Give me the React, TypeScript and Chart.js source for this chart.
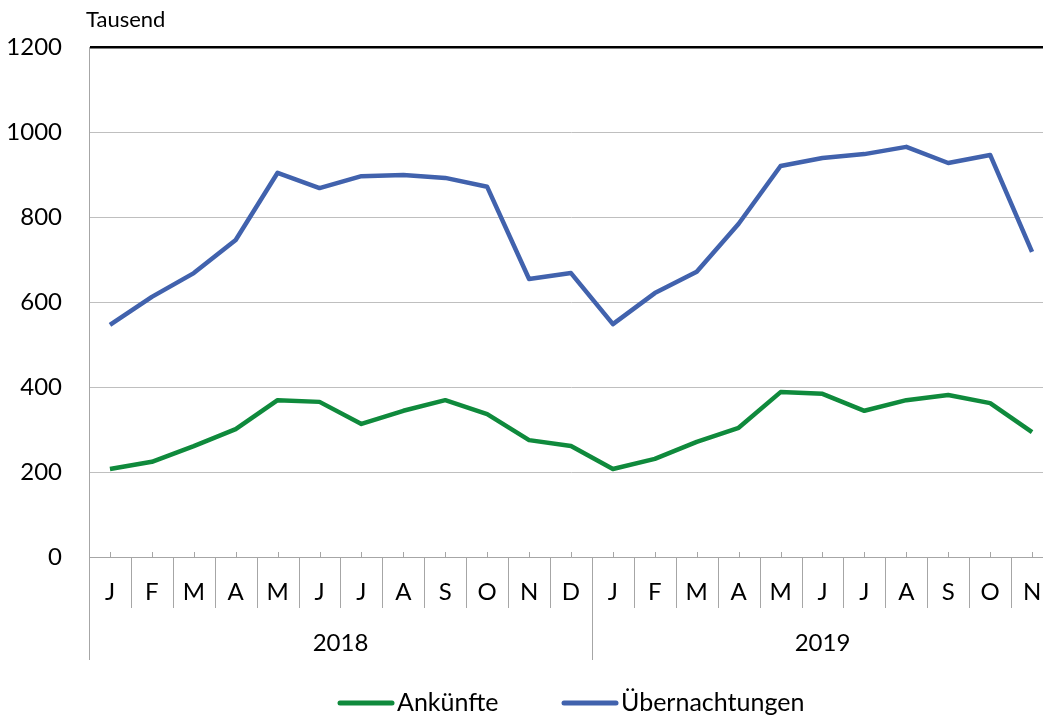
import React, { useEffect, useRef } from "react";
import { Chart, registerables } from "chart.js";

Chart.register(...registerables);

const months2018 = ["J", "F", "M", "A", "M", "J", "J", "A", "S", "O", "N", "D"];
const months2019 = ["J", "F", "M", "A", "M", "J", "J", "A", "S", "O", "N"];
const years = ["2018", "2019"];
const categories = [...months2018, ...months2019];

const ankuenfte = [207, 224, 261, 301, 369, 365, 313, 344, 369, 336, 275, 261, 207, 231, 271, 304, 388, 384, 344, 369, 381, 362, 294];
const uebernachtungen = [546, 612, 668, 746, 904, 868, 896, 899, 892, 871, 654, 668, 548, 621, 671, 784, 920, 939, 948, 965, 927, 946, 718];

const yTicks = [0, 200, 400, 600, 800, 1000, 1200];
const unitLabel = "Tausend";
const seriesNames = ["Ankünfte", "Übernachtungen"];
const seriesColors = ["#0f8a3c", "#4162ad"];

const FONT = "Lato, 'Noto Sans', sans-serif";
const AXIS_GRAY = "#a6a6a6";

const customAxis = {
  id: "customAxis",
  afterDraw(chart: any) {
    const ctx = chart.ctx;
    const area = chart.chartArea;
    const n = categories.length;
    const w = (area.right - area.left) / n;
    const bottom = area.bottom;
    ctx.save();
    ctx.strokeStyle = AXIS_GRAY;
    ctx.lineWidth = 1;
    const yearBounds = [0, months2018.length, n];
    for (let i = 0; i <= n; i++) {
      const bx = Math.round(area.left + i * w) + 0.5;
      const isYear = yearBounds.includes(i);
      ctx.beginPath();
      ctx.moveTo(bx, bottom);
      ctx.lineTo(bx, isYear ? 660 : 608);
      ctx.stroke();
    }
    for (let i = 0; i < n; i++) {
      const cx = Math.round(chart.scales.x.getPixelForValue(i)) + 0.5;
      ctx.beginPath();
      ctx.moveTo(cx, bottom - 5);
      ctx.lineTo(cx, bottom);
      ctx.stroke();
    }
    ctx.fillStyle = "#000";
    ctx.font = `24px ${FONT}`;
    ctx.textAlign = "center";
    ctx.textBaseline = "middle";
    for (let i = 0; i < n; i++) {
      ctx.fillText(categories[i], chart.scales.x.getPixelForValue(i), 592);
    }
    const groups = [
      [0, months2018.length],
      [months2018.length, n],
    ];
    groups.forEach((g, k) => {
      const cx = area.left + ((g[0] + g[1]) / 2) * w;
      ctx.fillText(years[k], cx, 643);
    });
    ctx.textAlign = "left";
    ctx.font = `22px ${FONT}`;
    ctx.fillText(unitLabel, 86, 20);
    ctx.font = `25px ${FONT}`;
    const legendX = [338, 562];
    seriesNames.forEach((name, k) => {
      const x0 = legendX[k];
      ctx.strokeStyle = seriesColors[k];
      ctx.lineWidth = 5;
      ctx.lineCap = "round";
      ctx.beginPath();
      ctx.moveTo(x0 + 2, 703);
      ctx.lineTo(x0 + 54, 703);
      ctx.stroke();
      ctx.fillStyle = "#000";
      ctx.fillText(name, x0 + 59, 703);
    });
    ctx.restore();
  },
};

export default function App() {
  const ref = useRef<HTMLCanvasElement>(null);
  useEffect(() => {
    if (!ref.current) return;
    const chart = new Chart(ref.current, {
      type: "line",
      data: {
        labels: categories,
        datasets: [
          {
            label: seriesNames[0],
            data: ankuenfte,
            borderColor: seriesColors[0],
            backgroundColor: seriesColors[0],
            borderWidth: 4.5,
            pointRadius: 0,
            tension: 0,
            borderJoinStyle: "round",
          },
          {
            label: seriesNames[1],
            data: uebernachtungen,
            borderColor: seriesColors[1],
            backgroundColor: seriesColors[1],
            borderWidth: 4.5,
            pointRadius: 0,
            tension: 0,
            borderJoinStyle: "round",
          },
        ],
      },
      options: {
        responsive: false,
        animation: false,
        layout: { padding: { left: 0, top: 47, right: 9, bottom: 0 } },
        plugins: { legend: { display: false }, tooltip: { enabled: false } },
        scales: {
          x: {
            type: "category",
            offset: true,
            grid: { display: false, drawTicks: false },
            ticks: { display: false },
            border: { display: true, color: AXIS_GRAY, width: 1 },
            afterFit: (s: any) => {
              s.height = 163;
            },
          },
          y: {
            min: 0,
            max: 1200,
            afterBuildTicks: (s: any) => {
              s.ticks = yTicks.map((v) => ({ value: v }));
            },
            grid: {
              drawTicks: false,
              color: (c: any) => (c.tick && c.tick.value === 1200 ? "#000" : "#bfbfbf"),
              lineWidth: (c: any) => (c.tick && c.tick.value === 1200 ? 2.5 : 1),
            },
            border: { display: true, color: AXIS_GRAY, width: 1 },
            ticks: {
              padding: 27,
              color: "#000",
              font: { family: FONT, size: 24 },
              callback: (v: any) => String(v),
            },
            afterFit: (s: any) => {
              s.width = 89;
            },
          },
        },
      },
      plugins: [customAxis],
    });
    return () => chart.destroy();
  }, []);
  return (
    <div style={{ position: "absolute", left: 0, top: 0, width: 1043, height: 720, overflow: "hidden", background: "#fff" }}>
      <canvas ref={ref} width={1062} height={720} style={{ display: "block" }} />
    </div>
  );
}
